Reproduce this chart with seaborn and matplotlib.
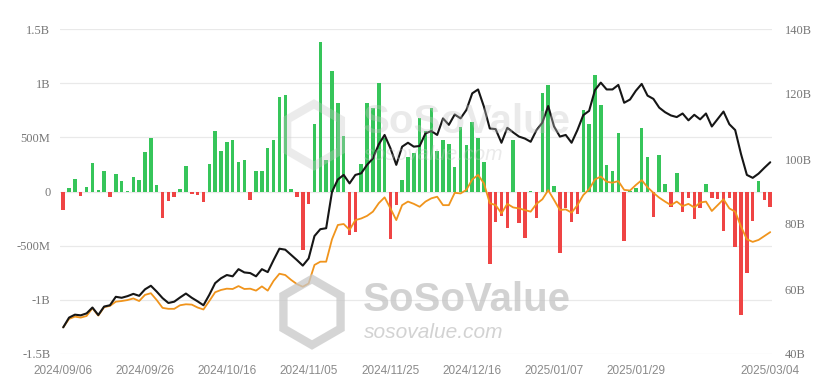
import numpy as np
import pandas as pd
import matplotlib
matplotlib.use("Agg")
import matplotlib.pyplot as plt
from matplotlib.patches import RegularPolygon
import seaborn as sns

# -------------------------
# data (daily net flow in B, two lines in B on right axis)
# -------------------------
flows = [
    -0.170, 0.029, 0.117, -0.044, 0.039, 0.263, 0.013, 0.187, -0.053, 0.158,
    0.093, 0.005, 0.136, 0.106, 0.366, 0.494, 0.061, -0.243, -0.092, -0.054,
    0.026, 0.235, -0.019, -0.031, -0.095, 0.254, 0.556, 0.371, 0.458, 0.471,
    0.274, 0.294, -0.079, 0.192, 0.188, 0.402, 0.479, 0.870, 0.893, 0.020,
    -0.050, -0.541, -0.117, 0.622, 1.376, 0.294, 1.114, 0.818, 0.510, -0.401,
    -0.371, 0.255, 0.816, 0.773, 1.000, 0.490, -0.438, -0.123, 0.105, 0.320,
    0.354, 0.676, 0.557, 0.767, 0.376, 0.479, 0.439, 0.223, 0.597, 0.429,
    0.637, 0.493, 0.275, -0.672, -0.277, -0.227, -0.338, 0.475, -0.288, -0.426,
    0.005, -0.242, 0.908, 0.979, 0.052, -0.569, -0.149, -0.284, -0.210, 0.755,
    0.626, 1.072, 0.803, 0.249, 0.189, 0.540, -0.458, 0.004, 0.030, 0.588,
    0.318, -0.235, 0.341, 0.066, -0.140, 0.172, -0.186, -0.057, -0.251, -0.156,
    0.071, -0.061, -0.071, -0.365, -0.063, -0.516, -1.138, -0.755, -0.276, 0.094,
    -0.074, -0.143,
]

net_assets = [
    48.2, 51.2, 52.1, 51.9, 52.5, 54.3, 52.0, 54.6, 55.0, 57.6,
    57.3, 57.8, 58.5, 57.9, 59.9, 61.0, 59.2, 57.2, 55.7, 56.1,
    57.4, 58.6, 57.3, 56.2, 55.0, 58.2, 61.8, 63.3, 64.3, 63.9,
    66.1, 65.1, 64.9, 63.9, 66.1, 65.2, 68.9, 72.4, 72.1, 70.5,
    68.9, 67.2, 69.4, 76.3, 78.4, 78.7, 89.9, 93.7, 95.1, 92.5,
    95.1, 95.6, 98.2, 100.2, 104.5, 107.4, 103.3, 98.2, 103.8, 105.0,
    103.8, 104.0, 107.9, 108.6, 107.4, 112.5, 110.5, 113.7, 112.5, 115.1,
    120.2, 121.4, 116.1, 109.4, 109.2, 105.0, 109.6, 108.2, 106.9, 106.3,
    105.3, 108.9, 111.2, 116.3, 110.0, 106.9, 107.4, 105.0, 108.9, 113.5,
    114.8, 121.2, 123.5, 121.4, 121.4, 122.8, 117.3, 118.3, 121.0, 123.1,
    119.5, 118.5, 115.8, 114.4, 113.4, 112.9, 114.0, 111.9, 113.6, 112.2,
    114.0, 110.0, 112.3, 114.6, 110.7, 108.9, 101.5, 95.1, 94.2, 95.5,
    97.3, 99.0,
]

other_line = [
    48.2, 50.8, 51.5, 51.2, 51.7, 54.1, 51.8, 54.4, 54.8, 56.1,
    56.3, 56.6, 57.1, 56.3, 58.2, 58.7, 56.6, 54.2, 53.9, 53.9,
    55.0, 55.3, 55.2, 54.3, 53.7, 56.3, 59.0, 59.7, 60.1, 60.0,
    60.9, 60.0, 60.1, 59.5, 60.8, 59.5, 62.5, 64.7, 64.3, 62.8,
    61.5, 60.7, 61.7, 67.4, 68.4, 68.4, 75.3, 79.7, 80.0, 78.2,
    81.2, 81.7, 82.5, 83.8, 86.4, 88.2, 84.8, 81.2, 85.8, 86.9,
    86.2, 85.3, 86.9, 87.9, 88.4, 85.8, 85.8, 89.6, 89.4, 90.5,
    93.7, 95.1, 92.5, 86.4, 85.8, 83.3, 86.2, 85.1, 84.8, 84.3,
    83.8, 86.2, 87.6, 90.4, 87.4, 84.3, 84.5, 83.5, 85.8, 88.9,
    90.7, 93.7, 94.6, 93.0, 92.7, 93.2, 90.5, 90.3, 92.0, 93.5,
    91.3, 89.6, 88.1, 86.9, 85.8, 86.9, 85.5, 86.2, 85.1, 86.6,
    86.9, 84.0, 85.8, 87.6, 84.8, 83.8, 79.2, 75.3, 74.5, 75.1,
    76.3, 77.5,
]

tick_pos = [0, 14, 28, 42, 56, 70, 84, 98, 121]
tick_labels = ["2024/09/06", "2024/09/26", "2024/10/16", "2024/11/05", "2024/11/25",
               "2024/12/16", "2025/01/07", "2025/01/29", "2025/03/04"]

left_ticks = [-1.5, -1.0, -0.5, 0, 0.5, 1.0, 1.5]
left_labels = ["-1.5B", "-1B", "-500M", "0", "500M", "1B", "1.5B"]
right_ticks = [40, 60, 80, 100, 120, 140]
right_labels = ["40B", "60B", "80B", "100B", "120B", "140B"]

df = pd.DataFrame({"idx": np.arange(len(flows)), "flow": flows,
                   "assets": net_assets, "other": other_line})
df["sign"] = np.where(df["flow"] >= 0, "pos", "neg")

# -------------------------
# plot
# -------------------------
sns.set_style("white")
plt.rcParams["font.family"] = ["Liberation Sans", "DejaVu Sans"]

fig = plt.figure(figsize=(8.34, 3.85), dpi=100)
ax = fig.add_axes([60 / 834, 1 - 354 / 385, 712 / 834, 325 / 385])

for t in left_ticks:
    ax.axhline(t, color="#e9e9e9", lw=0.9, zorder=0)

sns.barplot(data=df, x="idx", y="flow", hue="sign",
            palette={"pos": "#36c55a", "neg": "#ef4444"}, saturation=1,
            dodge=False, width=0.6, linewidth=0, legend=False, ax=ax, zorder=2)

ax.set_ylim(-1.5, 1.5)
ax.set_xlim(-0.55, len(flows) - 0.7)
ax.set_yticks(left_ticks)
ax.set_yticklabels(left_labels, family="Liberation Serif", fontsize=9, color="#777777")
ax.set_xticks(tick_pos)
ax.set_xticklabels(tick_labels, fontsize=8.5, color="#8a8a8a")
ax.tick_params(axis="both", length=0)
ax.tick_params(axis="y", pad=7)
ax.tick_params(axis="x", pad=8)
ax.set_xlabel("")
ax.set_ylabel("")
sns.despine(ax=ax, left=True, bottom=True)

ax2 = ax.twinx()
sns.lineplot(x=df["idx"], y=df["other"], color="#f0941c", lw=1.3, ax=ax2, zorder=3)
sns.lineplot(x=df["idx"], y=df["assets"], color="#161616", lw=1.5, ax=ax2, zorder=4)
ax2.set_ylim(40, 140)
ax2.set_yticks(right_ticks)
ax2.set_yticklabels(right_labels, family="Liberation Serif", fontsize=9, color="#777777")
ax2.tick_params(axis="y", length=0, pad=9)
ax2.set_ylabel("")
ax2.set_xlim(ax.get_xlim())
sns.despine(ax=ax2, left=True, bottom=True, right=True)

# watermarks (logo hexagon + text), positions in pixels
for (lx, ly, r, ty, alpha) in [(314, 135, 31, 122, 0.35), (312, 312, 33, 300, 0.75)]:
    hexa = RegularPolygon((lx / 100, (385 - ly) / 100), numVertices=6, radius=r / 100,
                          orientation=0, transform=fig.dpi_scale_trans, fill=False,
                          edgecolor="#c8c8c8", lw=6, alpha=alpha, zorder=10)
    fig.patches.append(hexa)
    fig.text(363 / 834, 1 - ty / 385, "SoSoValue", fontsize=29, fontweight="bold",
             color="#c4c4c4", alpha=alpha, va="center", ha="left", zorder=10)
    fig.text(364 / 834, 1 - (ty + 32) / 385, "sosovalue.com", fontsize=15, style="italic",
             color="#c4c4c4", alpha=alpha, va="center", ha="left", zorder=10)

fig.savefig("out.png", dpi=100)
